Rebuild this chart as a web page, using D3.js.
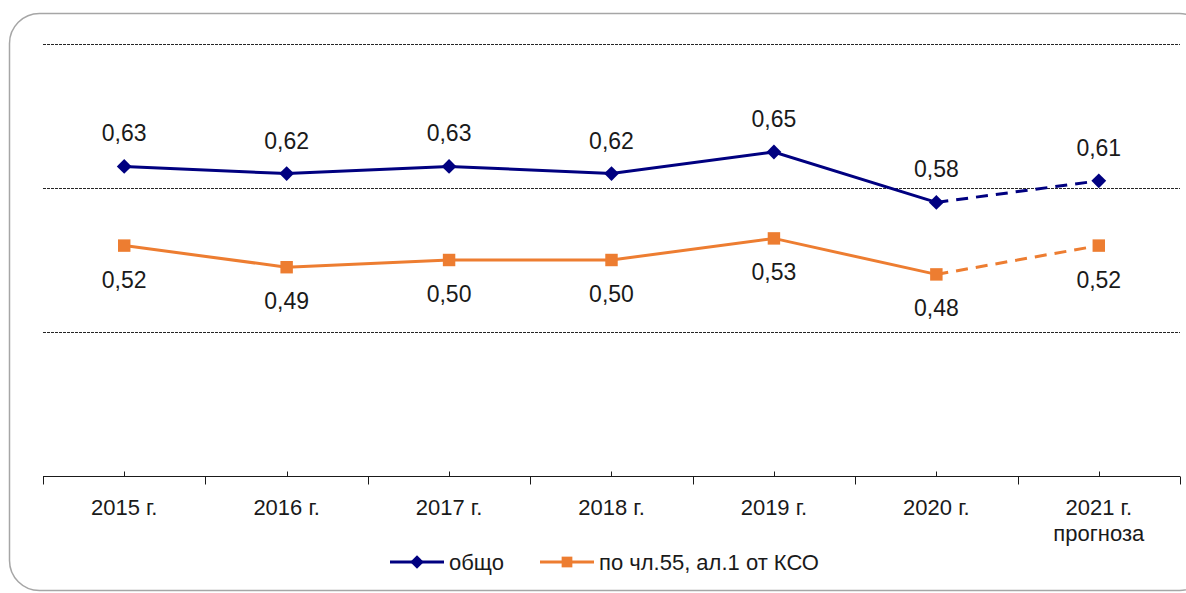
<!DOCTYPE html>
<html>
<head>
<meta charset="utf-8">
<script src="https://cdn.jsdelivr.net/npm/d3@7"></script>
<style>
	body { margin: 0; background: #fff; }
	svg text { font-family: "Liberation Sans", Arial, sans-serif; fill: #1a1a1a; }
</style>
</head>
<body>
<div id="vis_container"></div>
<script>
// Categories along the x axis; the last one has a second line.
var years = ["2015 г.", "2016 г.", "2017 г.", "2018 г.", "2019 г.", "2020 г.", "2021 г."];
var year_sub = ["", "", "", "", "", "", "прогноза"];

// Series values.
var total = [0.63, 0.62, 0.63, 0.62, 0.65, 0.58, 0.61];
var art55 = [0.52, 0.49, 0.50, 0.50, 0.53, 0.48, 0.52];

var series_names = ["общо", "по чл.55, ал.1 от КСО"];
var grid_values = [0.4, 0.6, 0.8];

var width = 1186;
var height = 593;

var x = d3.scaleBand()
	.domain(years)
	.range([43, 1180]);

var y = d3.scaleLinear()
	.domain([0.2, 0.8])
	.range([476, 44]);

var blue = "#000080";
var orange = "#ED7D31";

var svg = d3.select("#vis_container")
	.append("svg")
	.attr("width", width)
	.attr("height", height);

// rounded frame round the chart
svg.append("rect")
	.attr("x", 9.5)
	.attr("y", 13.5)
	.attr("width", 1200)
	.attr("height", 577)
	.attr("rx", 30)
	.style("fill", "none")
	.style("stroke", "#a6a6a6")
	.style("stroke-width", 1.5);

// dashed gridlines
svg.selectAll(".grid").data(grid_values).enter().append("line")
	.attr("class", "grid")
	.attr("x1", x.range()[0])
	.attr("x2", x.range()[1])
	.attr("y1", function(d) { return Math.round(y(d)) + 0.5; })
	.attr("y2", function(d) { return Math.round(y(d)) + 0.5; })
	.style("stroke", "#262626")
	.style("stroke-width", 1)
	.style("stroke-dasharray", "3,1");

// x axis: ticks at band edges pointing down, short ticks at centres pointing up
var axis_y = Math.round(y(0.2)) + 0.5;
var axis = svg.append("g");
axis.append("line")
	.attr("x1", x.range()[0]).attr("x2", x.range()[1])
	.attr("y1", axis_y).attr("y2", axis_y)
	.style("stroke", "#1a1a1a");

var edges = years.map(function(d) { return x(d); }).concat([x.range()[1]]);
axis.selectAll(".edge").data(edges).enter().append("line")
	.attr("x1", function(d) { return Math.round(d) + 0.5; })
	.attr("x2", function(d) { return Math.round(d) + 0.5; })
	.attr("y1", axis_y).attr("y2", axis_y + 8)
	.style("stroke", "#1a1a1a");

axis.selectAll(".mid").data(years).enter().append("line")
	.attr("x1", function(d) { return Math.round(x(d) + x.bandwidth() / 2) + 0.5; })
	.attr("x2", function(d) { return Math.round(x(d) + x.bandwidth() / 2) + 0.5; })
	.attr("y1", axis_y - 5).attr("y2", axis_y)
	.style("stroke", "#1a1a1a");

axis.selectAll(".lbl").data(years).enter().append("text")
	.attr("x", function(d) { return x(d) + x.bandwidth() / 2; })
	.attr("y", 515)
	.style("text-anchor", "middle")
	.style("font-size", "22px")
	.text(function(d) { return d; });

axis.selectAll(".sub").data(years).enter().append("text")
	.attr("x", function(d) { return x(d) + x.bandwidth() / 2; })
	.attr("y", 541)
	.style("text-anchor", "middle")
	.style("font-size", "22px")
	.text(function(d, i) { return year_sub[i]; });

function cx(i) { return x(years[i]) + x.bandwidth() / 2; }

function drawSeries(values, color, symbolType, symbolSize, labelDy) {
	var pts = values.map(function(v, i) { return [cx(i), y(v)]; });
	var line = d3.line();
	var n = pts.length;
	// actual years solid, forecast segment dashed
	svg.append("path")
		.attr("d", line(pts.slice(0, n - 1)))
		.style("fill", "none")
		.style("stroke", color)
		.style("stroke-width", 3);
	svg.append("path")
		.attr("d", line(pts.slice(n - 2)))
		.style("fill", "none")
		.style("stroke", color)
		.style("stroke-width", 3)
		.style("stroke-dasharray", "12,8");

	svg.selectAll(null).data(values).enter().append("path")
		.attr("d", d3.symbol().type(symbolType).size(symbolSize))
		.attr("transform", function(d, i) { return "translate(" + cx(i) + "," + y(d) + ")"; })
		.style("fill", color);

	svg.selectAll(null).data(values).enter().append("text")
		.attr("x", function(d, i) { return cx(i); })
		.attr("y", function(d) { return y(d) + labelDy; })
		.style("text-anchor", "middle")
		.style("font-size", "23px")
		.text(function(d) { return d.toFixed(2).replace(".", ","); });
}

drawSeries(total, blue, d3.symbolDiamond2, 140, -25);
drawSeries(art55, orange, d3.symbolSquare, 155, 42);

// legend
var legend = [
	{name: series_names[0], color: blue, sym: d3.symbolDiamond2, x: 390},
	{name: series_names[1], color: orange, sym: d3.symbolSquare, x: 540}
];
var lg = svg.selectAll(".legend").data(legend).enter().append("g")
	.attr("transform", function(d) { return "translate(" + d.x + ",562)"; });
lg.append("line")
	.attr("x1", 0).attr("x2", 54)
	.style("stroke", function(d) { return d.color; })
	.style("stroke-width", 3);
lg.append("path")
	.attr("d", function(d) { return d3.symbol().type(d.sym).size(115)(); })
	.attr("transform", "translate(27,0)")
	.style("fill", function(d) { return d.color; });
lg.append("text")
	.attr("x", 59)
	.attr("y", 8)
	.style("font-size", "22px")
	.text(function(d) { return d.name; });
</script>
</body>
</html>
